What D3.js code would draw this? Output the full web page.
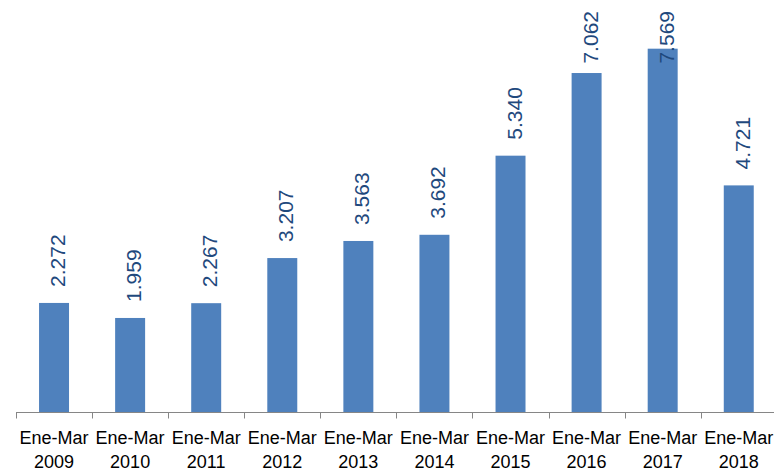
<!DOCTYPE html>
<html>
<head>
<meta charset="utf-8">
<script src="https://cdn.jsdelivr.net/npm/d3@7"></script>
<style>
  html, body { margin: 0; padding: 0; background: #ffffff; }
  svg { display: block; }
</style>
</head>
<body>
<script>
const categoryLines1 = ["Ene-Mar","Ene-Mar","Ene-Mar","Ene-Mar","Ene-Mar","Ene-Mar","Ene-Mar","Ene-Mar","Ene-Mar","Ene-Mar"];
const categoryYears = ["2009","2010","2011","2012","2013","2014","2015","2016","2017","2018"];
const values = [2.272, 1.959, 2.267, 3.207, 3.563, 3.692, 5.340, 7.062, 7.569, 4.721];
const valueLabels = ["2.272","1.959","2.267","3.207","3.563","3.692","5.340","7.062","7.569","4.721"];
const yDomain = [0, 8];

const W = 774, H = 472;
const svg = d3.select("body").append("svg").attr("width", W).attr("height", H);

const x = d3.scaleBand()
  .domain(categoryYears)
  .range([16, 776.8])
  .paddingInner(0.606)
  .paddingOuter(0.303);

const y = d3.scaleLinear().domain(yDomain).range([412, 28]);

// bars
svg.append("g").selectAll("rect")
  .data(values)
  .join("rect")
  .attr("x", (d, i) => x(categoryYears[i]))
  .attr("width", x.bandwidth())
  .attr("y", d => y(d))
  .attr("height", d => y(0) - y(d))
  .attr("fill", "#4F81BD");

// axis line and ticks
const step = x.step();
const axisG = svg.append("g");
axisG.append("line")
  .attr("x1", 16).attr("x2", W)
  .attr("y1", y(0) + 0.5).attr("y2", y(0) + 0.5)
  .attr("stroke", "#868686").attr("stroke-width", 1);
const firstEdge = x(categoryYears[0]) - x.step() * x.paddingOuter();
const tickXs = d3.range(categoryYears.length + 1).map(i => firstEdge + i * step);
axisG.selectAll("line.tick")
  .data(tickXs)
  .join("line")
  .attr("class", "tick")
  .attr("x1", d => Math.round(d) + 0.5).attr("x2", d => Math.round(d) + 0.5)
  .attr("y1", y(0)).attr("y2", y(0) + 6.5)
  .attr("stroke", "#868686").attr("stroke-width", 1);

// category labels
const labG = svg.append("g")
  .attr("font-family", "'Liberation Sans', Arial, sans-serif")
  .attr("font-size", 18)
  .attr("fill", "#000")
  .attr("text-anchor", "middle");
categoryYears.forEach((c, i) => {
  const cx = x(c) + x.bandwidth() / 2;
  labG.append("text").attr("x", cx).attr("y", 444).text(categoryLines1[i]);
  labG.append("text").attr("x", cx).attr("y", 467.5).text(c);
});

// value labels (rotated)
const vG = svg.append("g")
  .attr("font-family", "'Liberation Sans', Arial, sans-serif")
  .attr("font-size", 21)
  .attr("fill", "#1F497D");
values.forEach((v, i) => {
  const cx = x(categoryYears[i]) + x.bandwidth() / 2;
  const t = vG.append("text").attr("text-anchor", "start").text(valueLabels[i]);
  const len = t.node().getComputedTextLength();
  let start = y(v) - 16;
  if (start - len < 11) start = 11 + len;
  t.attr("transform", `translate(${cx + 11},${start}) rotate(-90)`);
});
</script>
</body>
</html>
